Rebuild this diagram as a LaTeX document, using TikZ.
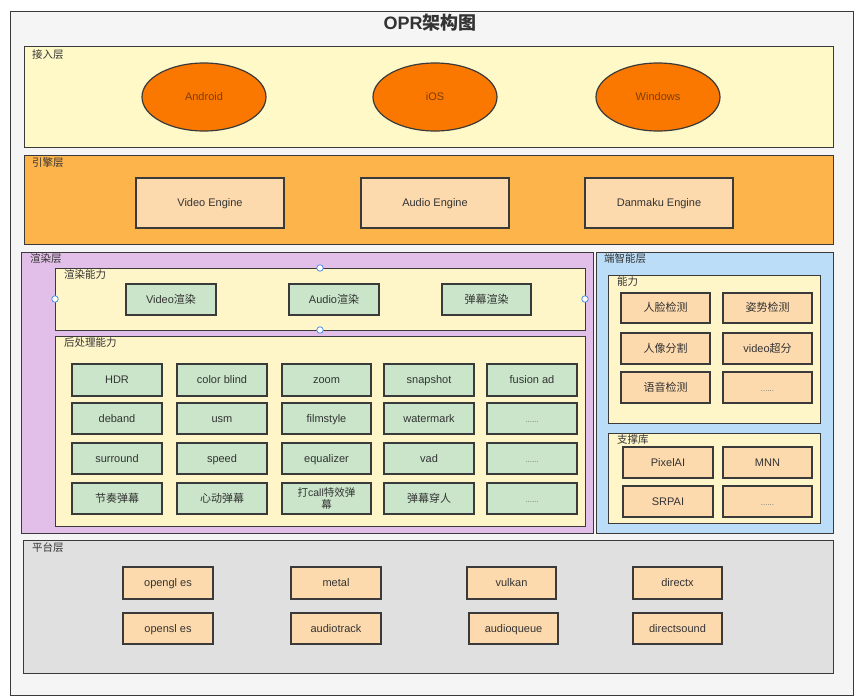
\documentclass[tikz,border=0pt]{standalone}
\usepackage{fontspec}
\setmainfont{Liberation Sans}
\newfontfamily\cjk{Noto Sans CJK SC}
\usetikzlibrary{shapes.geometric}
\definecolor{txt}{HTML}{333333}
\definecolor{edge}{HTML}{3A3A3A}
\definecolor{outerfill}{HTML}{F5F5F5}
\definecolor{accessfill}{HTML}{FFF9C8}
\definecolor{ellfill}{HTML}{FA7800}
\definecolor{ellTxt}{HTML}{7A3E08}
\definecolor{enginefill}{HTML}{FDB44B}
\definecolor{peach}{HTML}{FDDAAE}
\definecolor{renderfill}{HTML}{E2BFE8}
\definecolor{subfill}{HTML}{FEF5C8}
\definecolor{greenfill}{HTML}{CAE5CA}
\definecolor{aifill}{HTML}{BCDDF8}
\definecolor{platfill}{HTML}{E0E0E0}
\definecolor{handleblue}{HTML}{4A90E2}
\newcommand\bx[7]{\node[#6, minimum width={(#4-#2)*1pt}, minimum height={(#5-#3)*1pt}] (#1) at ({(#2+#4)/2},{(#3+#5)/2}) {#7};}
\tikzset{
  frame/.style={draw=edge, line width=0.9pt, inner sep=0pt, outer sep=0pt},
  layerbox/.style={frame, line width=1pt},
  item/.style={draw=edge, line width=1.2pt, inner sep=0pt, outer sep=0pt, text=txt, font=\fontsize{11}{12.5}\selectfont, align=center, text height=7.6pt, text depth=0.4pt},
  ellitem/.style={ellipse, draw=edge, line width=1.2pt, fill=ellfill, inner sep=0pt, text=ellTxt, font=\fontsize{11}{13}\selectfont, text height=7.6pt, text depth=0.4pt},
  lbl/.style={anchor=north west, inner sep=0pt, text=txt, font=\fontsize{10.5}{12}\selectfont\cjk},
  dots/.style={text=black!55, font=\fontsize{8}{9}\selectfont},
  handle/.style={circle, draw=handleblue, fill=white, line width=0.8pt, inner sep=0pt, minimum size=6.5pt},
}
\begin{document}
\begin{tikzpicture}[x=1pt,y=-1pt]
\useasboundingbox (0,0) rectangle (857,699);
% outer frame
\bx{outer}{10}{11}{853}{695}{frame, fill=outerfill, line width=1pt}{}
\node[text=txt, font=\fontsize{18}{20}\selectfont\bfseries] (title) at (430,23) {OPR{\cjk\bfseries 架构图}};
% access layer
\bx{access}{24}{46}{833}{147}{layerbox, fill=accessfill}{}
\node[lbl] (accessL) at (32,49) {接入层};
\bx{android}{142}{63}{266}{131}{ellitem}{Android}
\bx{ios}{373}{63}{497}{131}{ellitem}{iOS}
\bx{win}{596}{63}{720}{131}{ellitem}{Windows}
% engine layer
\bx{engine}{24}{155}{833}{244}{layerbox, fill=enginefill}{}
\node[lbl] (engineL) at (32,157) {引擎层};
\bx{veng}{136}{178}{284}{228}{item, fill=peach}{Video Engine}
\bx{aeng}{361}{178}{509}{228}{item, fill=peach}{Audio Engine}
\bx{deng}{585}{178}{733}{228}{item, fill=peach}{Danmaku Engine}
% render layer
\bx{render}{21}{252}{593}{533}{layerbox, fill=renderfill}{}
\node[lbl] (renderL) at (30,253) {渲染层};
\bx{rcap}{55}{268}{585}{330}{layerbox, fill=subfill}{}
\node[lbl] (rcapL) at (64,269) {渲染能力};
\bx{rv}{126}{284}{216}{315}{item, fill=greenfill}{Video{\cjk 渲染}}
\bx{ra}{289}{284}{379}{315}{item, fill=greenfill}{Audio{\cjk 渲染}}
\bx{rd}{442}{284}{531}{315}{item, fill=greenfill}{{\cjk 弹幕渲染}}
\node[handle] (h1) at (rcap.north) {};
\node[handle] (h2) at (rcap.west) {};
\node[handle] (h3) at (rcap.east) {};
\node[handle] (h4) at (rcap.south) {};
\bx{post}{55}{336}{585}{526}{layerbox, fill=subfill}{}
\node[lbl] (postL) at (64,337) {后处理能力};
% grid
\bx{g11}{72}{364}{162}{396}{item, fill=greenfill}{HDR}
\bx{g12}{177}{364}{267}{396}{item, fill=greenfill}{color blind}
\bx{g13}{282}{364}{371}{396}{item, fill=greenfill}{zoom}
\bx{g14}{384}{364}{474}{396}{item, fill=greenfill}{snapshot}
\bx{g15}{487}{364}{577}{396}{item, fill=greenfill}{fusion ad}
\bx{g21}{72}{403}{162}{434}{item, fill=greenfill}{deband}
\bx{g22}{177}{403}{267}{434}{item, fill=greenfill}{usm}
\bx{g23}{282}{403}{371}{434}{item, fill=greenfill}{filmstyle}
\bx{g24}{384}{403}{474}{434}{item, fill=greenfill}{watermark}
\bx{g25}{487}{403}{577}{434}{item, fill=greenfill, dots}{......}
\bx{g31}{72}{443}{162}{474}{item, fill=greenfill}{surround}
\bx{g32}{177}{443}{267}{474}{item, fill=greenfill}{speed}
\bx{g33}{282}{443}{371}{474}{item, fill=greenfill}{equalizer}
\bx{g34}{384}{443}{474}{474}{item, fill=greenfill}{vad}
\bx{g35}{487}{443}{577}{474}{item, fill=greenfill, dots}{......}
\bx{g41}{72}{483}{162}{514}{item, fill=greenfill}{{\cjk 节奏弹幕}}
\bx{g42}{177}{483}{267}{514}{item, fill=greenfill}{{\cjk 心动弹幕}}
\bx{g43}{282}{483}{371}{514}{item, fill=greenfill, text height=, text depth=, font=\fontsize{10.5}{11.5}\selectfont}{{\cjk 打}call{\cjk 特效弹}\\{\cjk 幕}}
\bx{g44}{384}{483}{474}{514}{item, fill=greenfill}{{\cjk 弹幕穿人}}
\bx{g45}{487}{483}{577}{514}{item, fill=greenfill, dots}{......}
% AI layer
\bx{ai}{596}{252}{833}{533}{layerbox, fill=aifill}{}
\node[lbl] (aiL) at (604,253) {端智能层};
\bx{cap}{608}{275}{820}{423}{layerbox, fill=subfill}{}
\node[lbl] (capL) at (617,276) {能力};
\bx{c11}{621}{293}{710}{323}{item, fill=peach}{{\cjk 人脸检测}}
\bx{c12}{723}{293}{812}{323}{item, fill=peach}{{\cjk 姿势检测}}
\bx{c21}{621}{333}{710}{364}{item, fill=peach}{{\cjk 人像分割}}
\bx{c22}{723}{333}{812}{364}{item, fill=peach}{video{\cjk 超分}}
\bx{c31}{621}{372}{710}{403}{item, fill=peach}{{\cjk 语音检测}}
\bx{c32}{723}{372}{812}{403}{item, fill=peach, dots}{......}
\bx{lib}{608}{433}{820}{523}{layerbox, fill=subfill}{}
\node[lbl] (libL) at (617,434) {支撑库};
\bx{l11}{623}{447}{713}{478}{item, fill=peach}{PixelAI}
\bx{l12}{723}{447}{812}{478}{item, fill=peach}{MNN}
\bx{l21}{623}{486}{713}{517}{item, fill=peach}{SRPAI}
\bx{l22}{723}{486}{812}{517}{item, fill=peach, dots}{......}
% platform layer
\bx{plat}{23}{540}{833}{673}{layerbox, fill=platfill}{}
\node[lbl] (platL) at (32,542) {平台层};
\bx{p11}{123}{567}{213}{599}{item, fill=peach}{opengl es}
\bx{p12}{291}{567}{381}{599}{item, fill=peach}{metal}
\bx{p13}{467}{567}{556}{599}{item, fill=peach}{vulkan}
\bx{p14}{633}{567}{722}{599}{item, fill=peach}{directx}
\bx{p21}{123}{613}{213}{644}{item, fill=peach}{opensl es}
\bx{p22}{291}{613}{381}{644}{item, fill=peach}{audiotrack}
\bx{p23}{469}{613}{558}{644}{item, fill=peach}{audioqueue}
\bx{p24}{633}{613}{722}{644}{item, fill=peach}{directsound}
\end{tikzpicture}
\end{document}
